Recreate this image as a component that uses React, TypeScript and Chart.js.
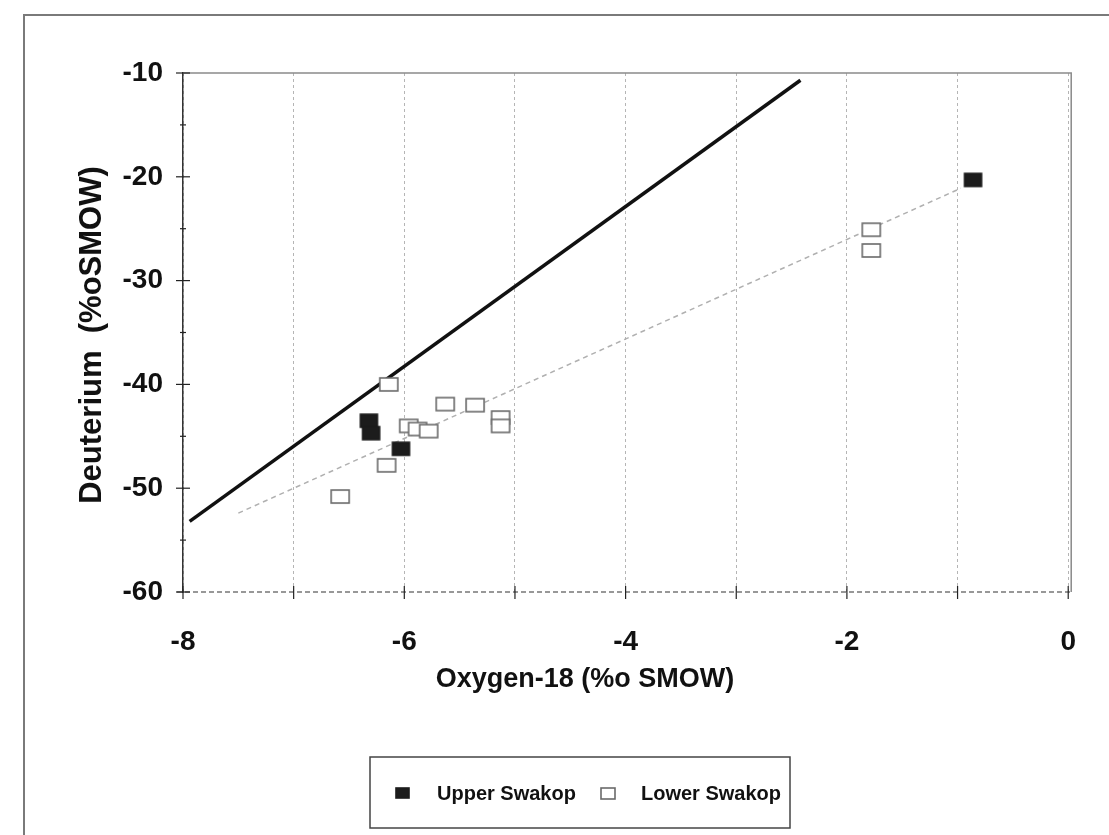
import React, { useEffect, useRef } from 'react';
import { Chart, registerables } from 'chart.js';
Chart.register(...registerables);

// ---- data ----
const upperX = [-6.32, -6.30, -6.03, -0.86];
const upperY = [-43.5, -44.7, -46.2, -20.3];
const lowerX = [-6.14, -5.96, -5.88, -5.78, -5.63, -5.36, -5.13, -5.13, -6.16, -6.58, -1.78, -1.78];
const lowerY = [-40.0, -44.0, -44.3, -44.5, -41.9, -42.0, -43.2, -44.0, -47.8, -50.8, -25.1, -27.1];
const gmwlX = [-7.94, -2.42];
const gmwlY = [-53.2, -10.7];
const regX = [-7.5, -0.97];
const regY = [-52.4, -21.1];
const xMin = -8, xMax = 0, xStep = 1;
const yMin = -60, yMax = -10, yStep = 10;
const xLabelValues = [-8, -6, -4, -2, 0];
const seriesNames = ['Upper Swakop', 'Lower Swakop'];
const xTitle = 'Oxygen-18 (%o SMOW)';
const yTitle = 'Deuterium  (%oSMOW)';

const FONT = '"Liberation Sans", Arial, sans-serif';

function pts(xs: number[], ys: number[]) {
  return xs.map((x, i) => ({ x, y: ys[i] }));
}

function makeMarker(filled: boolean, w: number, h: number) {
  const c = document.createElement('canvas');
  c.width = w + 4;
  c.height = h + 4;
  const ctx = c.getContext('2d')!;
  ctx.fillStyle = filled ? '#1c1c1c' : '#ffffff';
  ctx.fillRect(2, 2, w, h);
  ctx.strokeStyle = filled ? '#1c1c1c' : '#6a6a6a';
  ctx.lineWidth = 1.6;
  ctx.strokeRect(2, 2, w, h);
  return c;
}

export default function App() {
  const ref = useRef<HTMLCanvasElement | null>(null);
  useEffect(() => {
    document.body.style.margin = '0';
    const canvas = ref.current!;
    const filledMk = makeMarker(true, 17, 13);
    const openMk = makeMarker(false, 18, 13);
    const filledLg = makeMarker(true, 13, 10);
    const openLg = makeMarker(false, 14, 11);

    const decor = {
      id: 'decor',
      beforeDatasetsDraw(chart: any) {
        const { ctx, chartArea: a, scales } = chart;
        const x = scales.x, y = scales.y;
        ctx.save();
        // top & right frame of plot area
        ctx.strokeStyle = '#8a8a8a';
        ctx.lineWidth = 1.5;
        ctx.beginPath();
        ctx.moveTo(a.left, a.top);
        ctx.lineTo(a.right + 3, a.top);
        ctx.lineTo(a.right + 3, a.bottom);
        ctx.stroke();
        // dashed bottom axis
        ctx.setLineDash([5, 3]);
        ctx.strokeStyle = '#777';
        ctx.beginPath();
        ctx.moveTo(a.left - 6, a.bottom);
        ctx.lineTo(a.right + 3, a.bottom);
        ctx.stroke();
        ctx.setLineDash([]);
        // x tick marks
        ctx.strokeStyle = '#222';
        ctx.lineWidth = 1.2;
        for (let v = xMin; v <= xMax; v += xStep) {
          const px = x.getPixelForValue(v);
          ctx.beginPath();
          ctx.moveTo(px, a.bottom - 6);
          ctx.lineTo(px, a.bottom + 7);
          ctx.stroke();
        }
        // y tick marks (major + minor)
        for (let v = yMin; v <= yMax; v += yStep / 2) {
          const py = y.getPixelForValue(v);
          const major = Math.abs(v % yStep) < 1e-9;
          const l = major ? 7 : 3;
          ctx.beginPath();
          ctx.moveTo(a.left - l, py);
          ctx.lineTo(a.left + l, py);
          ctx.stroke();
        }
        ctx.restore();
      },
      afterDraw(chart: any) {
        const { ctx } = chart;
        ctx.save();
        // outer frame
        ctx.strokeStyle = '#7a7a7a';
        ctx.lineWidth = 2;
        ctx.beginPath();
        ctx.moveTo(24, 835);
        ctx.lineTo(24, 15);
        ctx.lineTo(1109, 15);
        ctx.stroke();
        // axis titles
        ctx.fillStyle = '#111';
        ctx.font = `bold 27px ${FONT}`;
        ctx.textAlign = 'center';
        ctx.textBaseline = 'alphabetic';
        ctx.fillText(xTitle, 585, 687);
        ctx.save();
        ctx.translate(101, 335);
        ctx.rotate(-Math.PI / 2);
        ctx.font = `bold 31px ${FONT}`;
        ctx.fillText(yTitle, 0, 0);
        ctx.restore();
        // legend box
        ctx.strokeStyle = '#444';
        ctx.lineWidth = 1.5;
        ctx.strokeRect(370, 757, 420, 71);
        ctx.drawImage(filledLg, 394, 786);
        ctx.drawImage(openLg, 599, 786);
        ctx.font = `bold 20px ${FONT}`;
        ctx.textAlign = 'left';
        ctx.fillStyle = '#111';
        ctx.fillText(seriesNames[0], 437, 800);
        ctx.fillText(seriesNames[1], 641, 800);
        ctx.restore();
      },
    };

    const chart = new Chart(canvas, {
      type: 'scatter',
      data: {
        datasets: [
          {
            label: seriesNames[0],
            data: pts(upperX, upperY),
            pointStyle: filledMk as any,
            pointRadius: 9,
            order: 0,
          },
          {
            label: seriesNames[1],
            data: pts(lowerX, lowerY),
            pointStyle: openMk as any,
            pointRadius: 9,
            order: 0,
          },
          {
            label: 'GMWL',
            data: pts(gmwlX, gmwlY),
            showLine: true,
            borderColor: '#111',
            borderWidth: 3.5,
            pointRadius: 0,
            order: 1,
          },
          {
            label: 'Regression',
            data: pts(regX, regY),
            showLine: true,
            borderColor: '#b0b0b0',
            borderWidth: 1.5,
            borderDash: [5, 4],
            pointRadius: 0,
            order: 2,
          },
        ],
      },
      options: {
        responsive: false,
        devicePixelRatio: 1,
        animation: false,
        layout: { padding: { left: 0, top: 73, right: 40, bottom: 0 } },
        plugins: { legend: { display: false }, tooltip: { enabled: false } },
        scales: {
          x: {
            type: 'linear',
            min: xMin,
            max: xMax,
            afterFit: (s: any) => { s.height = 835 - 592; },
            ticks: {
              stepSize: xStep,
              autoSkip: false,
              maxRotation: 0,
              padding: 33,
              color: '#111',
              font: { family: FONT, size: 28, weight: 'bold' },
              callback: (v: any) => (xLabelValues.includes(Number(v)) ? String(v) : ''),
            },
            grid: { display: true, color: '#b5b5b5', lineWidth: 1, drawTicks: false },
            border: { display: false, dash: [3, 3] },
          },
          y: {
            type: 'linear',
            min: yMin,
            max: yMax,
            afterFit: (s: any) => { s.width = 183; },
            ticks: {
              stepSize: yStep,
              padding: 20,
              color: '#111',
              font: { family: FONT, size: 28, weight: 'bold' },
            },
            grid: { display: false, drawTicks: false },
            border: { display: true, color: '#333', width: 1.5 },
          },
        },
      },
      plugins: [decor],
    });
    return () => chart.destroy();
  }, []);
  return (
    <div style={{ width: 1109, height: 835, background: '#fff' }}>
      <canvas ref={ref} width={1109} height={835} style={{ display: 'block' }} />
    </div>
  );
}
